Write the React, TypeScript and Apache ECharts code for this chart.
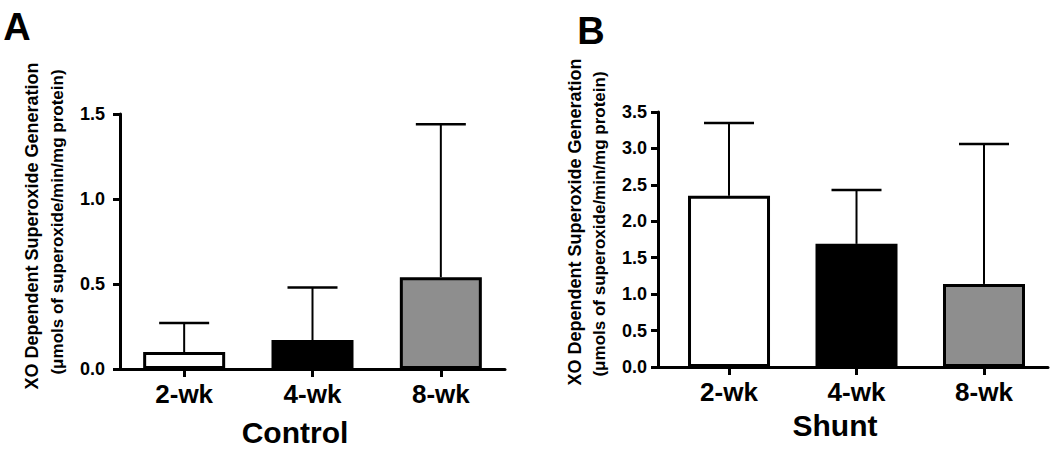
import React, { useEffect, useRef } from "react";
import * as echarts from "echarts";

const categories = ["2-wk", "4-wk", "8-wk"];
const controlMeans = [0.1, 0.17, 0.54];
const controlErrors = [0.17, 0.31, 0.9];
const shuntMeans = [2.35, 1.69, 1.14];
const shuntErrors = [1.0, 0.74, 1.92];
const barColors = ["#ffffff", "#000000", "#8e8e8e"];
const panelTitles = ["A", "B"];
const groupTitles = ["Control", "Shunt"];
const yTitleLine1 = "XO Dependent Superoxide Generation";
const yTitleLine2 = "(\u03bcmols of superoxide/min/mg protein)";

const FONT = "'Liberation Sans', Arial, Helvetica, sans-serif";

function buildOption() {
  const xAxisCommon = (gridIndex: number, min: number, max: number) => ({
    type: "value",
    gridIndex,
    min,
    max,
    splitLine: { show: false },
    axisLine: { show: true, onZero: false, lineStyle: { color: "#000", width: 3 } },
    axisTick: {
      show: true,
      customValues: [0, 1, 2],
      inside: false,
      length: 8,
      lineStyle: { color: "#000", width: 3 },
    },
    axisLabel: {
      customValues: [0, 1, 2],
      formatter: (v: number) => categories[Math.round(v)] ?? "",
      color: "#000",
      fontWeight: "bold",
      fontFamily: FONT,
      fontSize: 26,
      margin: 12,
    },
  });
  const yAxisCommon = (gridIndex: number, max: number, margin: number) => ({
    type: "value",
    gridIndex,
    min: 0,
    max,
    interval: 0.5,
    splitLine: { show: false },
    axisLine: { show: true, onZero: false, lineStyle: { color: "#000", width: 3 } },
    axisTick: { show: true, length: 7, lineStyle: { color: "#000", width: 3 } },
    axisLabel: {
      formatter: (v: number) => v.toFixed(1),
      color: "#000",
      fontWeight: "bold",
      fontFamily: FONT,
      fontSize: 18,
      margin,
    },
  });

  const barData = (means: number[]) =>
    means.map((m, i) => ({
      value: [i, m],
      itemStyle: { color: barColors[i], borderColor: "#000", borderWidth: 3 },
    }));
  const errData = (means: number[], errs: number[]) => means.map((m, i) => [i, m, errs[i]]);

  const renderErr = (params: any, api: any) => {
    const i = api.value(0);
    const m = api.value(1);
    const e = api.value(2);
    const base = api.coord([i, m]);
    const top = api.coord([i, m + e]);
    return {
      type: "group",
      children: [
        {
          type: "line",
          shape: { x1: base[0], y1: base[1], x2: top[0], y2: top[1] },
          style: { stroke: "#000", lineWidth: 2 },
        },
        {
          type: "line",
          shape: { x1: top[0] - 25, y1: top[1], x2: top[0] + 25, y2: top[1] },
          style: { stroke: "#000", lineWidth: 2.5 },
        },
      ],
    };
  };

  const textStyle = (size: number) => ({
    fill: "#000",
    font: `bold ${size}px ${FONT}`,
    align: "center",
    verticalAlign: "middle",
  });

  return {
    animation: false,
    backgroundColor: "#ffffff",
    grid: [
      { left: 120, top: 114, width: 385, height: 255, outerBoundsMode: "none", containLabel: false },
      { left: 658, top: 112, width: 390, height: 255, outerBoundsMode: "none", containLabel: false },
    ],
    xAxis: [xAxisCommon(0, -0.5, 2.5), xAxisCommon(1, -0.557, 2.502)],
    yAxis: [yAxisCommon(0, 1.5, 15), yAxisCommon(1, 3.5, 11)],
    series: [
      {
        type: "custom",
        xAxisIndex: 0,
        yAxisIndex: 0,
        data: errData(controlMeans, controlErrors),
        encode: { x: 0, y: 1 },
        renderItem: renderErr,
        z: 1,
      },
      {
        type: "bar",
        xAxisIndex: 0,
        yAxisIndex: 0,
        barWidth: 82,
        data: barData(controlMeans),
        z: 2,
      },
      {
        type: "custom",
        xAxisIndex: 1,
        yAxisIndex: 1,
        data: errData(shuntMeans, shuntErrors),
        encode: { x: 0, y: 1 },
        renderItem: renderErr,
        z: 1,
      },
      {
        type: "bar",
        xAxisIndex: 1,
        yAxisIndex: 1,
        barWidth: 82,
        data: barData(shuntMeans),
        z: 2,
      },
    ],
    graphic: [
      { type: "text", x: 17, y: 27, style: { ...textStyle(38), text: panelTitles[0] } },
      { type: "text", x: 591, y: 31, style: { ...textStyle(38), text: panelTitles[1] } },
      { type: "text", x: 32, y: 226, rotation: Math.PI / 2, style: { ...textStyle(18), text: yTitleLine1 } },
      { type: "text", x: 57, y: 222, rotation: Math.PI / 2, style: { ...textStyle(17), text: yTitleLine2 } },
      { type: "text", x: 575, y: 222, rotation: Math.PI / 2, style: { ...textStyle(18), text: yTitleLine1 } },
      { type: "text", x: 599, y: 224, rotation: Math.PI / 2, style: { ...textStyle(17), text: yTitleLine2 } },
      { type: "text", x: 295, y: 432, style: { ...textStyle(30), text: groupTitles[0] } },
      { type: "text", x: 835, y: 425, style: { ...textStyle(30), text: groupTitles[1] } },
    ],
  };
}

export default function App() {
  const ref = useRef<HTMLDivElement>(null);
  useEffect(() => {
    document.body.style.margin = "0";
    if (!ref.current) return;
    const chart = echarts.init(ref.current, undefined, { renderer: "svg" });
    chart.setOption(buildOption() as any);
    return () => chart.dispose();
  }, []);
  return <div ref={ref} style={{ width: 1050, height: 450 }} />;
}
